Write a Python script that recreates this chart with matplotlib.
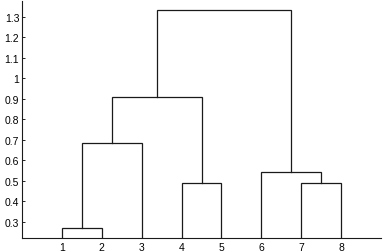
import matplotlib
matplotlib.use("Agg")
import matplotlib.pyplot as plt

# linkage: (left child, right child, height); leaves are 1..8, new clusters 9..
link_left = [1, 4, 7, 6, 9, 13, 14]
link_right = [2, 5, 8, 11, 3, 10, 12]
link_height = [0.27, 0.487, 0.487, 0.541, 0.683, 0.909, 1.333]
leaf_labels = ["1", "2", "3", "4", "5", "6", "7", "8"]

plt.rcParams.update({
    "font.family": ["Liberation Sans", "DejaVu Sans"],
    "font.size": 7.5,
})

fig = plt.figure(figsize=(3.83, 2.53), dpi=100)
ax = fig.add_axes([0.0574, 0.0565, 0.9376, 0.9355])

n = len(leaf_labels)
pos = {i + 1: (float(i + 1), 0.0) for i in range(n)}
for k, (a, b, h) in enumerate(zip(link_left, link_right, link_height)):
    xa, ya = pos[a]
    xb, yb = pos[b]
    ax.plot([xa, xa, xb, xb], [ya, h, h, yb], color="#1a1a1a", linewidth=0.9,
            solid_joinstyle="miter", clip_on=True)
    pos[n + k + 1] = ((xa + xb) / 2, h)

ax.set_xlim(0, 9)
ax.set_ylim(0.222, 1.378)
ax.set_xticks(range(1, n + 1))
ax.set_xticklabels(leaf_labels)
ax.set_yticks([0.3, 0.4, 0.5, 0.6, 0.7, 0.8, 0.9, 1.0, 1.1, 1.2, 1.3])
ax.set_yticklabels(["0.3", "0.4", "0.5", "0.6", "0.7", "0.8", "0.9", "1", "1.1", "1.2", "1.3"])
ax.tick_params(axis="y", direction="in", length=2, width=0.6, pad=2)
ax.tick_params(axis="x", length=0, pad=3)
ax.spines["top"].set_visible(False)
ax.spines["right"].set_visible(False)
for s in ["left", "bottom"]:
    ax.spines[s].set_linewidth(0.8)
    ax.spines[s].set_color("#1a1a1a")

fig.savefig("out.png", dpi=100)
